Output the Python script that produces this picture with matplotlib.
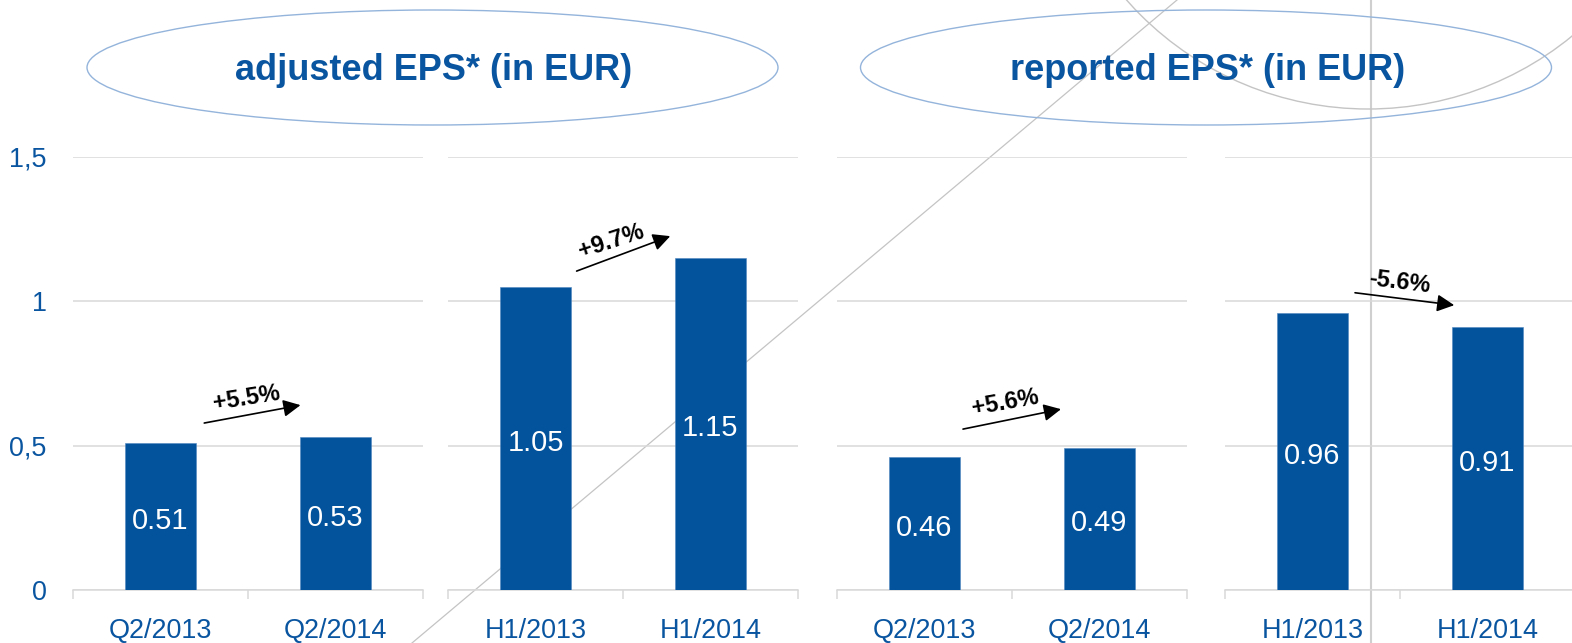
import matplotlib
matplotlib.use("Agg")
import matplotlib.pyplot as plt
from matplotlib import font_manager, transforms
from matplotlib.patches import Ellipse, Circle
from matplotlib.lines import Line2D

# ---------------- data ----------------
panel_titles = ["adjusted EPS* (in EUR)", "reported EPS* (in EUR)"]
cats_q = ["Q2/2013", "Q2/2014"]
cats_h = ["H1/2013", "H1/2014"]
adj_q2 = [0.51, 0.53]
adj_h1 = [1.05, 1.15]
rep_q2 = [0.46, 0.49]
rep_h1 = [0.96, 0.91]
changes = ["+5.5%", "+9.7%", "+5.6%", "-5.6%"]
y_ticks = [0, 0.5, 1, 1.5]
y_tick_labels = ["0", "0,5", "1", "1,5"]

panels = [(cats_q, adj_q2), (cats_h, adj_h1), (cats_q, rep_q2), (cats_h, rep_h1)]

# ---------------- style ----------------
BLUE = "#02529C"
TXT_BLUE = "#0A55A0"
GRID = "#d9d9d9"
DECO = "#c4c4c4"

names = {f.name for f in font_manager.fontManager.ttflist}
NARROW = "Liberation Sans Narrow" if "Liberation Sans Narrow" in names else "Liberation Sans"
narrow_scale = 1.0 if NARROW == "Liberation Sans Narrow" else 0.95
REG = "Liberation Sans"

W, H = 1572, 643
fig = plt.figure(figsize=(W / 100, H / 100), dpi=100)
# transform: image pixel coords (y down) -> figure fraction
pix = transforms.Affine2D().scale(1 / W, -1 / H).translate(0, 1) + fig.transFigure

# decorative background lines (behind the charts)
fig.add_artist(Line2D([1177, 412], [0, 643], transform=pix, color=DECO, lw=0.9, zorder=-5))
fig.add_artist(Line2D([1371, 1371], [0, 643], transform=pix, color="#cfcfcf", lw=1.5, zorder=-5))
fig.add_artist(Circle((1368, -213), 322, transform=pix, fill=False, edgecolor=DECO, lw=1.0, zorder=-5))

# title ellipses
for cx, title in zip([432.5, 1206], panel_titles):
    fig.add_artist(Ellipse((cx, 67.5), 691, 115, transform=pix, fill=False,
                           edgecolor="#94b4db", lw=1.0, zorder=-4))
    fig.text(cx + 1.5, 80, title, transform=pix, ha="center", va="baseline",
             fontsize=26, fontweight="bold", color=TXT_BLUE, family=REG)

# annotation geometry (axis data coords): tail, head, text pos, rotation
arrow_geom = [
    ((0.25, 0.578), (0.80, 0.640), (0.49, 0.664), 9),
    ((0.235, 1.104), (0.77, 1.225), (0.43, 1.208), 18),
    ((0.22, 0.557), (0.78, 0.626), (0.46, 0.647), 10),
    ((0.243, 1.029), (0.81, 0.986), (0.50, 1.066), -7),
]

lefts = [73, 448, 837, 1225]
pw = 350
y0_px, ytop_px = 590, 156.7
for i, ((cats, vals), left) in enumerate(zip(panels, lefts)):
    ax = fig.add_axes([left / W, (H - y0_px) / H, pw / W, (y0_px - ytop_px) / H])
    ax.patch.set_visible(False)
    x = list(range(len(cats)))
    ax.bar(x, vals, width=0.41, color=BLUE, edgecolor="#4f86c0", linewidth=0.4, zorder=3)
    for xi, v in zip(x, vals):
        ax.annotate(f"{v:.2f}", xy=(xi, v / 2), xytext=(0, -3), textcoords="offset points",
                    ha="center", va="center", color="white",
                    fontsize=22 * narrow_scale, family=NARROW, zorder=4)
    ax.set_xlim(-0.5, 1.5)
    ax.set_ylim(0, 1.5)
    ax.set_yticks(y_ticks)
    ax.yaxis.grid(True, color=GRID, lw=1.1)
    ax.set_axisbelow(True)
    for s in ["top", "right", "left"]:
        ax.spines[s].set_visible(False)
    ax.spines["bottom"].set_color(GRID)
    ax.spines["bottom"].set_linewidth(1.1)
    ax.set_xticks(x)
    ax.set_xticklabels(cats, fontsize=20.5 * narrow_scale, family=NARROW, color=TXT_BLUE)
    ax.set_xticks([-0.5, 0.5, 1.5], minor=True)
    ax.tick_params(axis="x", which="major", length=0, pad=20)
    ax.tick_params(axis="x", which="minor", length=6.5, width=1.1, color=GRID)
    if i == 0:
        ax.set_yticklabels(y_tick_labels, fontsize=20.5 * narrow_scale, family=NARROW, color=TXT_BLUE)
        ax.tick_params(axis="y", length=0, pad=19)
    else:
        ax.tick_params(axis="y", length=0, labelleft=False)
    tail, head, tpos, rot = arrow_geom[i]
    ax.annotate("", xy=head, xytext=tail,
                arrowprops=dict(arrowstyle="-|>", color="black", lw=1.2,
                                mutation_scale=26, shrinkA=0, shrinkB=0),
                annotation_clip=False)
    ax.text(tpos[0], tpos[1], changes[i], ha="center", va="center", rotation=rot,
            rotation_mode="anchor", fontsize=17, fontweight="bold", family=REG,
            color="black", clip_on=False)

fig.savefig("out.png", dpi=100)
